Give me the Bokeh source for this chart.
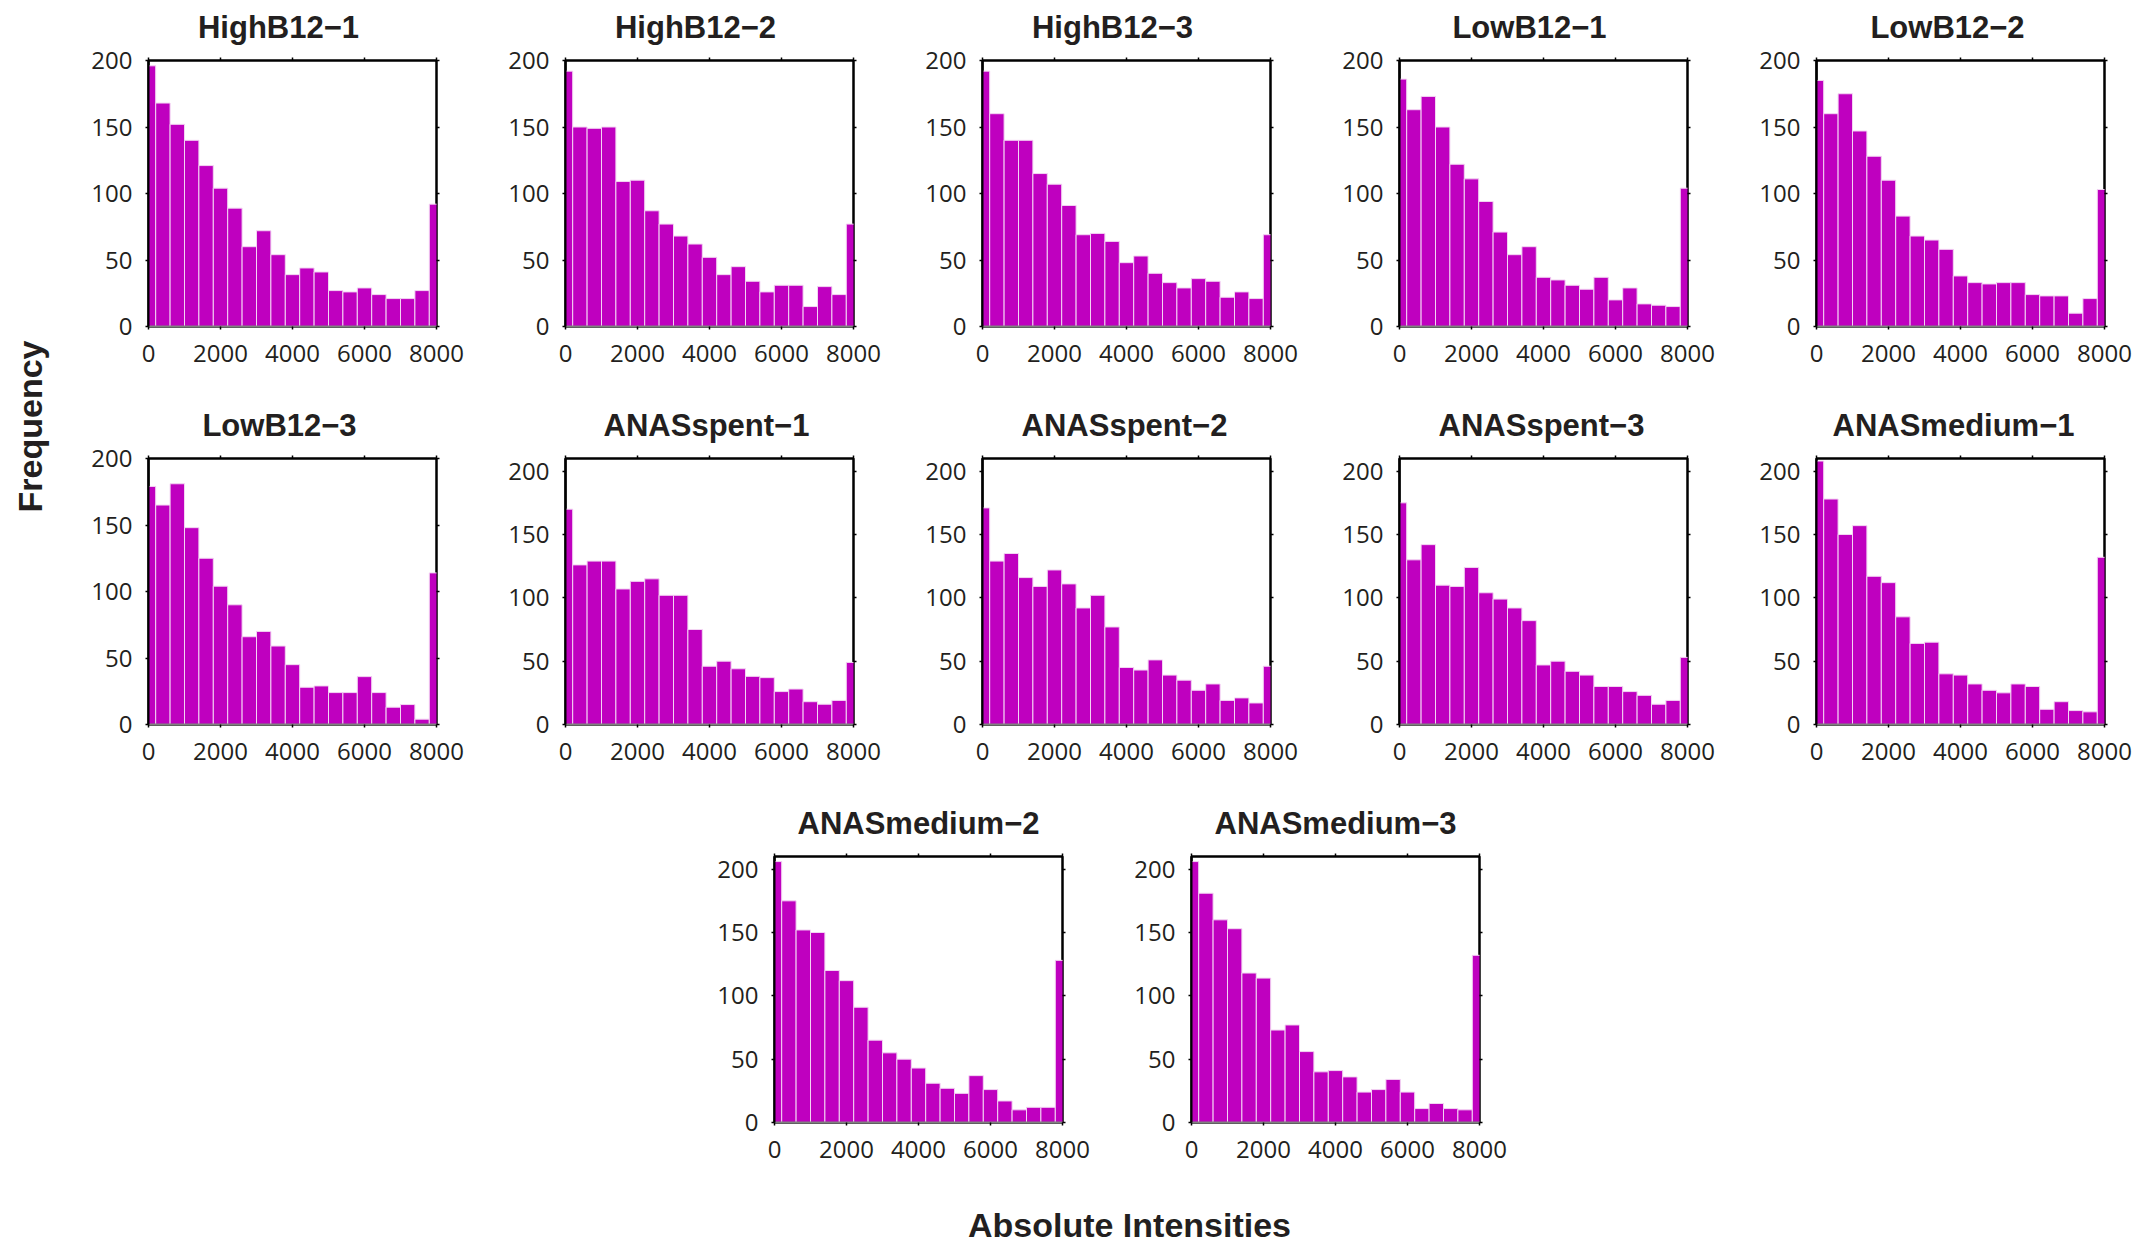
import math
from bokeh.plotting import figure
from bokeh.layouts import row, column, Spacer
from bokeh.models import Range1d, FixedTicker, LinearAxis, CustomJSTickFormatter
from bokeh.core.properties import value
from bokeh.embed import file_html
from bokeh.resources import INLINE

# ---------------- data ----------------
bin_centers = list(range(0, 8001, 400))   # histogram bin centres (width 400)
bin_width = 400
x_ticks = [0, 2000, 4000, 6000, 8000]
y_ticks = [0, 50, 100, 150, 200]

titles = ["HighB12−1", "HighB12−2", "HighB12−3", "LowB12−1", "LowB12−2",
          "LowB12−3", "ANASspent−1", "ANASspent−2", "ANASspent−3", "ANASmedium−1",
          "ANASmedium−2", "ANASmedium−3"]

HighB12_1 = [196, 168, 152, 140, 121, 104, 89, 60, 72, 54, 39, 44, 41, 27, 26, 29, 24, 21, 21, 27, 92]
HighB12_2 = [192, 150, 149, 150, 109, 110, 87, 77, 68, 62, 52, 39, 45, 34, 26, 31, 31, 15, 30, 24, 77]
HighB12_3 = [192, 160, 140, 140, 115, 107, 91, 69, 70, 64, 48, 53, 40, 33, 29, 36, 34, 22, 26, 21, 69]
LowB12_1 = [186, 163, 173, 150, 122, 111, 94, 71, 54, 60, 37, 35, 31, 28, 37, 20, 29, 17, 16, 15, 104]
LowB12_2 = [185, 160, 175, 147, 128, 110, 83, 68, 65, 58, 38, 33, 32, 33, 33, 24, 23, 23, 10, 21, 103]
LowB12_3 = [179, 165, 181, 148, 125, 104, 90, 66, 70, 59, 45, 28, 29, 24, 24, 36, 24, 13, 15, 4, 114]
ANASspent_1 = [170, 126, 129, 129, 107, 113, 115, 102, 102, 75, 46, 50, 44, 38, 37, 26, 28, 18, 16, 19, 49]
ANASspent_2 = [171, 129, 135, 116, 109, 122, 111, 92, 102, 77, 45, 43, 51, 39, 35, 27, 32, 19, 21, 17, 46]
ANASspent_3 = [175, 130, 142, 110, 109, 124, 104, 99, 92, 82, 47, 50, 42, 39, 30, 30, 26, 23, 16, 19, 53]
ANASmedium_1 = [208, 178, 150, 157, 117, 112, 85, 64, 65, 40, 39, 32, 27, 25, 32, 30, 12, 18, 11, 10, 132]
ANASmedium_2 = [206, 175, 152, 150, 120, 112, 91, 65, 55, 50, 43, 31, 27, 23, 37, 26, 17, 10, 12, 12, 128]
ANASmedium_3 = [206, 181, 160, 153, 118, 114, 73, 77, 56, 40, 41, 36, 24, 26, 34, 24, 11, 15, 11, 10, 132]

series = [HighB12_1, HighB12_2, HighB12_3, LowB12_1, LowB12_2,
          LowB12_3, ANASspent_1, ANASspent_2, ANASspent_3, ANASmedium_1,
          ANASmedium_2, ANASmedium_3]
y_max = [200, 200, 200, 200, 200, 200, 210, 210, 210, 210, 210, 210]

# ---------------- style ----------------
BAR_FILL = "#BF00BF"
BAR_EDGE = "#F3D4F3"
INK = "#231f20"
TICK_FONT = "Open Sans"
BOLD_FONT = "Liberation Sans"
TITLE_PX = 31
title_shift = [-14, -14, -14, -14, -13, -13, -3, -2, -2, -7, 0, 0]
# approximate advance widths (em) of Liberation Sans Bold, used to centre titles
ADV = {"H": .722, "i": .278, "g": .611, "h": .611, "B": .722, "1": .556, "2": .556,
       "3": .556, "−": .584, "L": .611, "o": .611, "w": .778, "A": .722, "N": .722,
       "S": .667, "s": .556, "p": .611, "e": .556, "n": .611, "t": .333, "m": .889,
       "d": .611, "u": .611}

FRAME_W, FRAME_H = 288, 266
LEFT, TOP = 80, 60


def border_axis(ticks, gap):
    # unlabeled axis: short visible (minor) ticks, invisible major ticks that
    # reserve `gap` pixels of space outside the frame
    ax = LinearAxis(ticker=FixedTicker(ticks=ticks, minor_ticks=ticks),
                    formatter=CustomJSTickFormatter(code="return ''"))
    ax.axis_line_color = None
    ax.major_tick_line_color = None
    ax.major_tick_in = 0
    ax.major_tick_out = gap
    ax.minor_tick_line_color = "black"
    ax.minor_tick_line_width = 1.5
    ax.minor_tick_in = 0
    ax.minor_tick_out = 3
    ax.major_label_standoff = 0
    ax.major_label_text_font_size = "1px"
    return ax


def make_panel(i, right, bottom):
    p = figure(width=LEFT + FRAME_W + right, height=TOP + FRAME_H + bottom,
               x_range=Range1d(0, 8000), y_range=Range1d(0, y_max[i]),
               min_border_left=LEFT, min_border_right=right,
               min_border_top=TOP, min_border_bottom=bottom,
               toolbar_location=None, output_backend="svg")
    p.quad(left=[c - bin_width / 2 for c in bin_centers],
           right=[c + bin_width / 2 for c in bin_centers],
           bottom=0, top=series[i],
           fill_color=BAR_FILL, line_color=BAR_EDGE, line_width=1)
    p.xgrid.visible = False
    p.ygrid.visible = False
    p.outline_line_color = "black"
    p.outline_line_width = 2.5

    for ax in (p.xaxis[0], p.yaxis[0]):
        ax.minor_tick_line_color = None
        ax.major_tick_in = 0
        ax.major_tick_out = 3
        ax.major_tick_line_color = "black"
        ax.major_tick_line_width = 1.5
        ax.major_label_text_font = TICK_FONT
        ax.major_label_text_font_size = "24px"
        ax.major_label_text_color = INK
    p.xaxis.ticker = FixedTicker(ticks=x_ticks)
    p.yaxis.ticker = FixedTicker(ticks=y_ticks)
    p.xaxis.axis_line_color = "#808080"
    p.xaxis.axis_line_width = 2
    p.yaxis.axis_line_color = "black"
    p.yaxis.axis_line_width = 2
    p.xaxis.major_label_standoff = 15
    p.yaxis.major_label_standoff = 13

    # tick marks on the right and top borders (no labels)
    p.add_layout(border_axis(y_ticks, 3), "right")
    p.add_layout(border_axis(x_ticks, 15), "above")

    # panel title
    w = sum(ADV.get(ch, 0.6) for ch in titles[i]) * TITLE_PX
    p.title.text = titles[i]
    p.title.align = "left"
    p.title.offset = FRAME_W / 2 + title_shift[i] - w / 2
    p.title.text_font = BOLD_FONT
    p.title.text_font_style = "bold"
    p.title.text_font_size = f"{TITLE_PX}px"
    p.title.text_color = INK
    p.title.standoff = 1
    return p


row1 = row([make_panel(i, 49 if i < 4 else 28, 72) for i in range(0, 5)])
row2 = row([make_panel(i, 49 if i < 9 else 28, 72) for i in range(5, 10)])
row3 = row([Spacer(width=626, height=376), make_panel(10, 49, 50), make_panel(11, 49, 50)])

TOTAL_H = 398 + 398 + 376 + 72
GRID_W = 4 * 417 + 396

# x-axis label strip
xlab = figure(width=GRID_W, height=72, x_range=Range1d(0, GRID_W), y_range=Range1d(0, 72),
              min_border=0, toolbar_location=None, output_backend="svg",
              x_axis_location=None, y_axis_location=None)
xlab.grid.visible = False
xlab.outline_line_color = None
xlab.text(x=[1061], y=[20], text=["Absolute Intensities"],
          text_font=value(BOLD_FONT), text_font_style="bold",
          text_font_size=value("34px"), text_align="center",
          text_baseline="middle", text_color=INK)

# y-axis label strip
freq = figure(width=68, height=TOTAL_H, x_range=Range1d(0, 68), y_range=Range1d(0, TOTAL_H),
              min_border=0, toolbar_location=None, output_backend="svg",
              x_axis_location=None, y_axis_location=None)
freq.grid.visible = False
freq.outline_line_color = None
freq.text(x=[29], y=[TOTAL_H - 426], text=["Frequency"], angle=math.pi / 2,
          text_font=value(BOLD_FONT), text_font_style="bold",
          text_font_size=value("34px"), text_align="center",
          text_baseline="middle", text_color=INK)

layout = row(freq, column(row1, row2, row3, xlab))

open("out.html", "w").write(file_html(layout, INLINE))
